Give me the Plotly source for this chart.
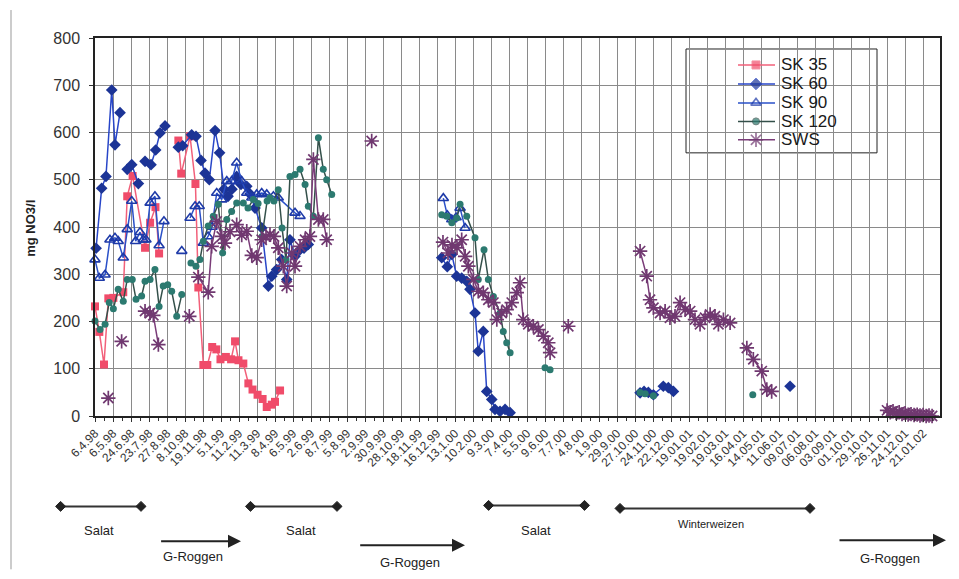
import plotly.graph_objects as go

# ---------------- data (x = position on the category axis, 1 unit = one labelled date) ----
tick_labels = ["6.4.98", "6.5.98", "24.6.98", "23.7.98", "27.8.98", "8.10.98", "19.11.98",
               "5.1.99", "11.2.99", "11.3.99", "8.4.99", "6.5.99", "2.6.99", "8.7.99",
               "5.8.99", "2.9.99", "30.9.99", "28.10.99", "18.11.99", "16.12.99", "13.1.00",
               "10.2.00", "9.3.00", "7.4.00", "5.5.00", "9.6.00", "7.7.00", "4.8.00",
               "1.9.00", "29.9.00", "27.10.00", "24.11.00", "22.12.00", "19.01.01",
               "19.02.01", "19.03.01", "16.04.01", "14.05.01", "11.06.01", "09.07.01",
               "06.08.01", "03.09.01", "01.10.01", "29.10.01", "26.11.01", "24.12.01",
               "21.01.02"]

sk35_x = [0.00, 0.24, 0.50, 0.74, 1.02, 1.57, 1.79, 2.09, 2.78, 3.06, 3.36, 3.56, None,
          4.63, 4.79, 5.28, 5.58, 5.74, 6.02, 6.24, 6.51, 6.74, 6.97, 7.27, 7.56, 7.78,
          7.97, 8.24, 8.52, 8.75, 9.03, 9.31, 9.54, 9.82, 10.00, 10.28]
sk35_y = [232, 178, 109, 249, 250, 262, 465, 508, 356, 409, 442, 344, None,
          583, 513, 592, 491, 272, 108, 108, 146, 141, 120, 125, 120, 158,
          118, 111, 69, 56, 45, 36, 19, 24, 30, 54]

sk60_x = [0.06, 0.37, 0.61, 0.93, 1.11, 1.39, None, 1.79, 2.04, 2.41, None,
          2.78, 3.11, 3.37, 3.61, 3.89, None,
          4.63, 4.87, 5.37, 5.61, 5.89, 6.11, 6.35, 6.67, 6.92, 7.17, 7.39, 7.61, 7.87,
          8.11, 8.43, 8.61, 8.89, 9.26, 9.63, 9.82, 10.09, 10.37, 10.65, 10.83, 11.11,
          11.39, 11.61, 11.85, None,
          19.26, 19.57, 19.82, 20.09, 20.37, 20.65, 20.83, 21.11, 21.29, 21.57, 21.76,
          22.04, 22.22, 22.50, 22.78, 23.06, None,
          30.28, 30.50, 30.74, 31.02, 31.57, 31.85, 32.13, None, 38.61]
sk60_y = [355, 482, 507, 690, 574, 642, None, 522, 532, 492, None,
          539, 532, 563, 599, 614, None,
          569, 572, 595, 592, 541, 514, 500, 604, 557, 480, 465, 480, 507,
          490, 486, 470, 440, 398, 275, 296, 310, 331, 289, 373, 338,
          352, 355, 363, None,
          335, 316, 342, 296, 292, 285, 268, 218, 137, 179, 52,
          35, 14, 10, 14, 7, None,
          49, 52, 50, 45, 63, 60, 52, None, 63]

sk90_x = [0.00, 0.24, 0.56, 0.83, 1.11, 1.29, 1.57, 1.79, 2.04, 2.26, 2.50, 2.68, 2.83,
          3.06, 3.33, 3.56, 3.83, None, 4.82, None,
          5.28, 5.56, 5.79, 6.02, 6.28, 6.50, 6.76, 7.04, 7.32, 7.59, 7.87, 8.15, 8.43,
          8.71, 8.98, 9.26, 9.54, 9.91, 10.18, 11.11, 11.39, None,
          19.35, 19.57, 19.82, 20.06, 20.28, 20.56]
sk90_y = [331, 292, 299, 373, 377, 370, 335, 395, 455, 370, 389, 373, 373,
          451, 465, 361, 412, None, 349, None,
          419, 444, 444, 366, 380, 400, 472, 458, 497, 497, 536, 497, 472,
          462, 469, 472, 469, 465, 462, 430, 423, None,
          461, 425, 416, 420, 440, 398]

sk120_x = [0.00, 0.28, 0.56, 0.79, 1.02, 1.29, 1.57, 1.79, 2.07, 2.28, 2.59, 2.78, 3.06,
           3.33, 3.56, 3.79, 4.04, 4.26, 4.54, 4.82, None,
           5.33, 5.61, 5.83, 6.02, 6.29, 6.57, 6.85, 7.09, 7.32, 7.59, 7.87, 8.24, 8.50,
           8.79, 9.06, 9.28, 9.56, 9.72, 9.94, 10.18, 10.39, 10.61, 10.83, 11.11, 11.39,
           11.67, 11.85, 12.13, 12.41, 12.68, 12.87, 13.15, None,
           19.26, 19.54, 19.82, 20.09, 20.28, 20.65, 21.11, 21.29, 21.61, 21.85, 22.13,
           22.50, 22.68, 22.87, 23.06, None, 25.00, 25.28, None,
           30.28, 30.56, 31.02, None, 36.54]
sk120_y = [201, 183, 194, 240, 227, 268, 243, 289, 289, 247, 254, 285, 289,
           310, 232, 275, 278, 264, 211, 257, None,
           324, 317, 331, 370, 402, 423, 448, 345, 416, 433, 451, 451, 440,
           458, 450, 380, 455, 462, 455, 479, 398, 330, 507, 511, 522,
           490, 444, 423, 589, 522, 500, 469, None,
           426, 423, 409, 419, 448, 423, 377, 289, 352, 289, 253,
           218, 179, 155, 134, None, 102, 98, None,
           50, 47, 43, None, 45]

sws_x = [0.74, None, 1.48, None, 2.78, 3.06, 3.24, 3.52, None, 5.24, None,
         5.74, 6.29, 6.48, 6.76, 7.04, 7.22, 7.50, 7.87, 8.15, 8.43, 8.71, 8.98, 9.26,
         9.50, 9.72, 9.94, 10.18, 10.46, 10.65, 10.93, 11.11, 11.39, 11.67, 11.94, 12.13,
         12.41, 12.68, 12.87, None, 15.37, None,
         19.33, 19.61, 19.83, 20.11, 20.37, 20.56, 20.74, 21.02, 21.29, 21.57, 21.85,
         22.13, 22.32, 22.59, 22.87, 23.15, 23.43, 23.61, 23.79, 24.07, 24.35, 24.63,
         24.91, 25.18, 25.28, None, 26.29, None,
         30.28, 30.65, 30.83, 31.02, 31.39, 31.67, 31.94, 32.22, 32.50, 32.78, 33.06,
         33.33, 33.61, 33.89, 34.17, 34.44, 34.63, 34.91, 35.28, None,
         36.21, 36.57, 37.04, 37.32, 37.59, None,
         44.00, 44.17, 44.33, 44.50, 44.67, 44.83, 45.00, 45.17, 45.33, 45.50, 45.67,
         45.83, 46.00, 46.17, 46.33, 46.50]
sws_y = [38, None, 158, None, 222, 218, 213, 151, None, 211, None,
         294, 262, 359, 412, 380, 366, 390, 405, 383, 391, 340, 335, 373,
         380, 384, 380, 356, 317, 275, 345, 317, 359, 373, 380, 543,
         416, 416, 373, None, 582, None,
         368, 345, 362, 356, 373, 338, 317, 289, 264, 261, 246,
         240, 204, 218, 225, 240, 261, 282, 204, 194, 190, 183,
         169, 155, 134, None, 190, None,
         349, 296, 246, 229, 218, 222, 208, 211, 240, 225, 222,
         204, 194, 208, 215, 211, 194, 204, 197, None,
         144, 120, 95, 56, 52, None,
         12, 8, 10, 6, 8, 4, 6, 3, 4, 2, 3,
         1, 2, 0, 1, 0]

# ---------------- figure ----------------
# page is drawn with an 8px body margin: the figure is shrunk so it fits the window
OFF = 8
W, H = 959 - 2 * OFF, 579 - 2 * OFF
# plot area in page pixel coordinates
L, R, T, B = 95, 940, 38, 416.5
FONT = "Arial, Liberation Sans, sans-serif"


def px(xp):
    return (xp - L) / (R - L)


def py(yp):
    return (B - yp) / (B - T)


series = [
    dict(name="SK 35", x=sk35_x, y=sk35_y, lc="#f2607a", lw=1.5,
         m=dict(symbol="square", size=8, color="#f04c6a")),
    dict(name="SK 60", x=sk60_x, y=sk60_y, lc="#2846c8", lw=1.5,
         m=dict(symbol="diamond", size=9, color="#1c3496")),
    dict(name="SK 90", x=sk90_x, y=sk90_y, lc="#2a50c8", lw=1.5,
         m=dict(symbol="triangle-up-open", size=9, color="#1e3aa8",
                line=dict(width=1.6, color="#1e3aa8"))),
    dict(name="SK 120", x=sk120_x, y=sk120_y, lc="#34504a", lw=1.5,
         m=dict(symbol="circle", size=7, color="#2c7a70")),
    dict(name="SWS", x=sws_x, y=sws_y, lc="#7a3c78", lw=1.5,
         m=dict(symbol="asterisk-open", size=12, color="#703870",
                line=dict(width=1.7, color="#703870"))),
]

fig = go.Figure()
for s in series:
    fig.add_trace(go.Scatter(
        x=s["x"], y=s["y"], name=s["name"], mode="lines+markers",
        line=dict(color=s["lc"], width=s["lw"]), marker=s["m"],
        connectgaps=False, cliponaxis=False, showlegend=False))

shapes = []
annotations = []

# legend box (drawn manually for exact spacing)
shapes.append(dict(type="rect", xref="paper", yref="paper",
                   x0=px(686), x1=px(877), y0=py(153), y1=py(49),
                   fillcolor="white", line=dict(color="#222", width=1), layer="between"))
leg_y = [65, 84, 103, 121.5, 140]
for s, yy in zip(series, leg_y):
    m = dict(s["m"])
    m["size"] = [0, s["m"]["size"], 0]
    fig.add_trace(go.Scatter(
        x=[px(738), px(756), px(775)], y=[py(yy)] * 3, xaxis="x2", yaxis="y2",
        mode="lines+markers", line=dict(color=s["lc"], width=1.5), marker=m,
        showlegend=False, hoverinfo="skip"))
    annotations.append(dict(text=s["name"], xref="paper", yref="paper",
                            x=px(779), y=py(yy), xanchor="left", yanchor="middle",
                            showarrow=False, font=dict(family=FONT, size=17, color="#1a1a1a")))

# y-axis title
annotations.append(dict(text="<b>mg NO3/l</b>", xref="paper", yref="paper",
                        x=px(31), y=py(229), xanchor="center", yanchor="middle",
                        textangle=-90, showarrow=False,
                        font=dict(family=FONT, size=13, color="#222")))

# crop periods (line with diamond ends)
periods = [(60.6, 141, 507, "Salat", 99, 531, 13),
           (250.5, 337, 507, "Salat", 301, 531, 13),
           (488.6, 584.5, 506, "Salat", 536, 531, 13),
           (620, 810, 509, "Winterweizen", 711, 525, 11)]
for x0, x1, yl, txt, tx, ty, fs in periods:
    shapes.append(dict(type="line", xref="paper", yref="paper",
                       x0=px(x0), x1=px(x1), y0=py(yl), y1=py(yl),
                       line=dict(color="#333", width=2)))
    for xe in (x0, x1):
        d = 5
        path = (f"M {px(xe - d)},{py(yl)} L {px(xe)},{py(yl - d)} "
                f"L {px(xe + d)},{py(yl)} L {px(xe)},{py(yl + d)} Z")
        shapes.append(dict(type="path", xref="paper", yref="paper", path=path,
                           fillcolor="#222", line=dict(color="#222", width=1)))
    annotations.append(dict(text=txt, xref="paper", yref="paper", x=px(tx), y=py(ty),
                            xanchor="center", yanchor="middle", showarrow=False,
                            font=dict(family=FONT, size=fs, color="#222")))

# G-Roggen arrows
arrows = [(159.6, 241, 542, 193, 557),
          (358.7, 465, 546, 409.5, 563),
          (838, 946, 541, 890, 559)]
for x0, x1, ya, tx, ty in arrows:
    annotations.append(dict(text="", xref="paper", yref="paper", x=px(x1), y=py(ya),
                            ax=-(x1 - x0), ay=0, showarrow=True, arrowhead=2,
                            arrowsize=1.3, arrowwidth=2, arrowcolor="#222"))
    annotations.append(dict(text="G-Roggen", xref="paper", yref="paper", x=px(tx),
                            y=py(ty), xanchor="center", yanchor="middle", showarrow=False,
                            font=dict(family=FONT, size=13, color="#222")))

# page frame line on the left
shapes.append(dict(type="line", xref="paper", yref="paper", x0=px(11), x1=px(11),
                   y0=py(10), y1=py(570), line=dict(color="#999", width=1)))

fig.update_layout(
    width=W, height=H,
    margin=dict(l=L - OFF, r=W - (R - OFF), t=T - OFF, b=H - (B - OFF)),
    paper_bgcolor="white", plot_bgcolor="white",
    font=dict(family=FONT, color="#222"),
    showlegend=False,
    xaxis=dict(range=[0, 46.94], tickmode="array", tickvals=list(range(len(tick_labels))),
               ticktext=tick_labels, tickangle=-45, tickfont=dict(size=12, color="#333"),
               showgrid=True, gridcolor="#8a8a8a", gridwidth=1,
               showline=True, linecolor="#222", linewidth=1.5, mirror=True,
               ticks="outside", ticklen=4, tickcolor="#333",
               minor=dict(tick0=0, dtick=0.5, ticks="outside", ticklen=3,
                          tickcolor="#333", showgrid=False),
               zeroline=False, automargin=False, fixedrange=True),
    yaxis=dict(range=[0, 800], dtick=100, tickfont=dict(size=16, color="#333"),
               showgrid=True, gridcolor="#8a8a8a", gridwidth=1,
               showline=True, linecolor="#222", linewidth=1.5, mirror=True,
               ticks="outside", ticklen=4, tickcolor="#333", ticklabelstandoff=6,
               zeroline=False, automargin=False, fixedrange=True),
    xaxis2=dict(overlaying="x", anchor="y2", range=[0, 1], visible=False, fixedrange=True),
    yaxis2=dict(overlaying="y", anchor="x2", range=[0, 1], visible=False, fixedrange=True),
    shapes=shapes, annotations=annotations,
)

fig.write_html("out.html")
